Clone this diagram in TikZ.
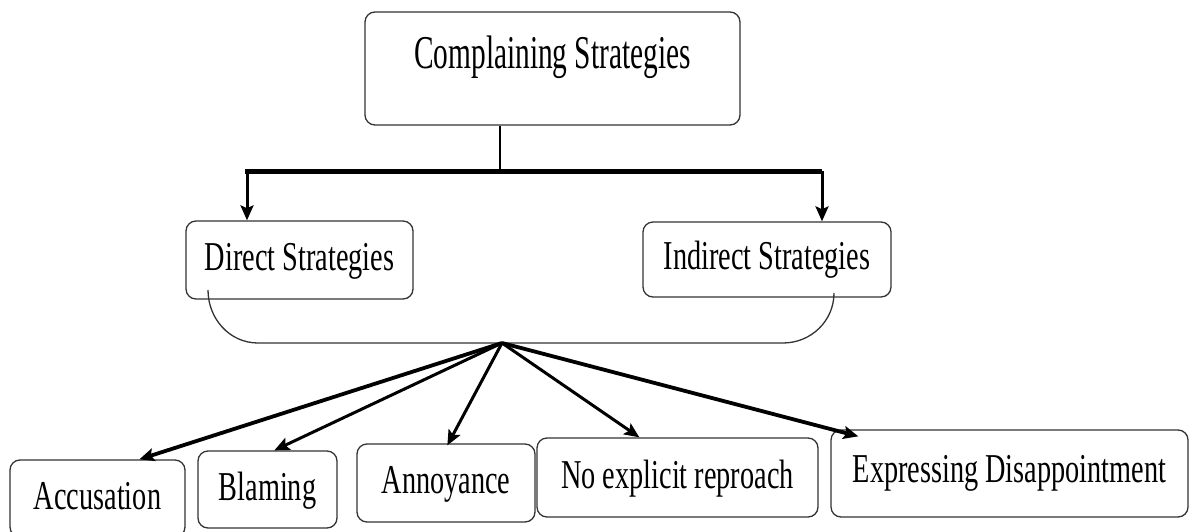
\documentclass[tikz,border=0pt]{standalone}
\usepackage{fontspec}
\usepackage{tikz}
\usetikzlibrary{arrows.meta}
\usetikzlibrary{positioning}
\newfontfamily\boxfont[FakeStretch=0.69]{Liberation Serif}
\newfontfamily\titlefont[FakeStretch=0.625]{Liberation Serif}
\definecolor{dgray}{rgb}{0.2, 0.2, 0.2}
\tikzset{sbox/.style = {draw=dgray, line width=1.3pt, rounded corners=10pt, inner sep=0, text height=28pt, text depth=7pt, font=\boxfont\fontsize{41}{41}\selectfont}}
\tikzset{harrow/.style = {line width=3pt, -{Stealth[length=15pt, width=13pt, inset=3pt]}}}
\tikzset{warrow/.style = {harrow, line width=3.8pt}}

\begin{document}
\begin{tikzpicture}[x=1pt, y=-1pt]
    \clip (0, 0) rectangle (1190, 532);

    \node [sbox, minimum width=375pt, minimum height=113pt, text height=30pt, text depth=30pt, font=\titlefont\fontsize{47}{47}\selectfont] (title) at (552.5, 68.5) {Complaining Strategies};

    \node [sbox, minimum width=227pt, minimum height=78pt] (direct) at (299.5, 260) {Direct Strategies};
    \node [sbox, minimum width=248pt, minimum height=75pt, text depth=9pt] (indirect) at (767, 259.5) {Indirect Strategies};

    \node [sbox, minimum width=175pt, minimum height=77pt] (accus) at (97.5, 498.5) {Accusation};
    \node [sbox, minimum width=139pt, minimum height=77pt] (blame) at (267.5, 489.5) {Blaming};
    \node [sbox, minimum width=178pt, minimum height=78pt] (annoy) at (446, 483) {Annoyance};
    \node [sbox, minimum width=281pt, minimum height=79pt] (noexp) at (677.5, 477.5) {No explicit reproach};
    \node [sbox, minimum width=357pt, minimum height=87pt, text depth=11pt] (disapp) at (1009.5, 473.5) {Expressing Disappointment};

    % split into the two kinds
    \coordinate (join) at (500, 171);
    \coordinate (barL) at (245, 171);
    \coordinate (barR) at (822, 171);
    \draw [line width=1.3pt] (title.south -| join) -- (join);
    \draw [line width=5pt] (barL) -- (barR);
    \draw [harrow] ([xshift=2pt]barL) -- ([xshift=2pt]direct.north -| barL);
    \draw [harrow] (barR) -- (indirect.north -| barR);

    % bracket under both kinds
    \coordinate (hub) at (502, 343);
    \draw [line width=1.3pt, dgray] (208, 290) to [out=-90, in=180] (258, 343) -- (783, 343) to [out=0, in=-90] (834, 293);

    \draw [warrow] (hub) -- ([xshift=130pt]accus.north west);
    \draw [harrow] (hub) -- ([xshift=77pt]blame.north west);
    \draw [harrow] (hub) -- ([xshift=91pt, yshift=-2pt]annoy.north west);
    \draw [harrow] (hub) -- ([xshift=103pt]noexp.north west);
    \draw [warrow] (hub) -- ([xshift=28pt, yshift=-7pt]disapp.north west);

  \end{tikzpicture}
\end{document}
